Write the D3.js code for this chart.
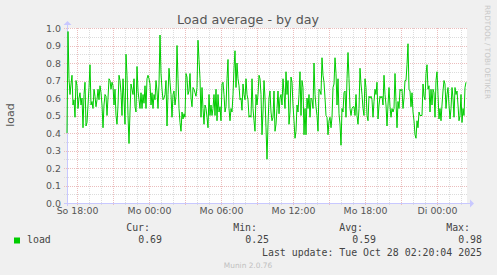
<!DOCTYPE html>
<html>
<head>
<meta charset="utf-8">
<script src="https://cdn.jsdelivr.net/npm/d3@7"></script>
<style>
  html, body { margin: 0; padding: 0; background: #F0F0F0; }
  svg { display: block; }
</style>
</head>
<body>
<svg id="chart" width="497" height="275"></svg>
<script>
// ---------------- data ----------------
const chartTitle = "Load average - by day";
const yAxisLabel = "load";
const seriesName = "load";
// 5-minute samples, first sample Sun 26 Oct 2025 17:10
const startTime = Date.UTC(2025, 9, 26, 17, 10);
const stepMinutes = 5;
const loadValues = [
  0.40,0.98,0.71,0.62,0.68,0.73,0.56,0.59,0.49,0.70,0.67,0.54,0.60,0.63,0.56,0.60,0.43,0.62,0.69,0.44,
  0.46,0.56,0.66,0.79,0.56,0.58,0.54,0.65,0.61,0.55,0.59,0.65,0.59,0.67,0.63,0.56,0.43,0.56,0.62,0.61,
  0.50,0.60,0.71,0.70,0.65,0.69,0.67,0.56,0.65,0.50,0.45,0.56,0.73,0.70,0.63,0.50,0.71,0.60,0.45,0.85,
  0.73,0.50,0.34,0.52,0.68,0.65,0.62,0.71,0.55,0.52,0.78,0.64,0.59,0.54,0.63,0.54,0.62,0.57,0.67,
  0.54,0.71,0.73,0.71,0.68,0.56,0.63,0.54,0.62,0.59,0.70,0.64,0.54,0.68,0.96,0.74,0.65,0.59,0.60,0.62,
  0.70,0.44,0.62,0.77,0.69,0.62,0.49,0.62,0.64,0.56,0.61,0.90,0.71,0.54,0.46,0.41,0.52,0.48,0.51,0.49,
  0.74,0.72,0.62,0.64,0.74,0.60,0.55,0.66,0.65,0.63,0.61,0.66,0.93,0.82,0.71,0.49,0.66,0.54,0.45,0.56,
  0.54,0.49,0.43,0.62,0.50,0.56,0.50,0.54,0.62,0.50,0.65,0.47,0.62,0.52,0.55,0.47,0.68,0.69,0.62,0.52,
  0.55,0.71,0.82,0.54,0.47,0.54,0.52,0.62,0.77,0.87,0.66,0.80,0.71,0.67,0.59,0.60,0.53,0.68,0.62,0.59,
  0.71,0.62,0.59,0.49,0.50,0.49,0.71,0.54,0.47,0.41,0.62,0.56,0.62,0.73,0.71,0.62,0.39,0.52,0.70,0.60,
  0.43,0.25,0.45,0.60,0.64,0.52,0.47,0.49,0.64,0.41,0.45,0.54,0.64,0.51,0.60,0.62,0.56,0.71,0.63,0.54,
  0.75,0.62,0.70,0.45,0.52,0.72,0.69,0.56,0.47,0.37,0.41,0.56,0.52,0.62,0.75,0.50,0.70,0.66,0.39,0.54,
  0.39,0.60,0.54,0.62,0.49,0.60,0.59,0.54,0.80,0.62,0.55,0.50,0.41,0.65,0.64,0.62,0.83,0.73,0.69,0.60,
  0.50,0.49,0.39,0.47,0.49,0.43,0.49,0.66,0.68,0.83,0.74,0.56,0.71,0.51,0.45,0.33,0.54,0.52,0.63,0.64,
  0.49,0.71,0.86,0.71,0.54,0.50,0.54,0.55,0.55,0.50,0.62,0.50,0.45,0.54,0.77,0.68,0.62,0.54,0.50,0.71,
  0.66,0.50,0.47,0.61,0.60,0.61,0.59,0.49,0.58,0.65,0.62,0.69,0.48,0.56,0.61,0.60,0.61,0.56,0.73,0.62,
  0.56,0.44,0.56,0.66,0.55,0.49,0.54,0.52,0.54,0.74,0.58,0.43,0.58,0.54,0.65,0.64,0.65,0.54,0.60,0.70,
  0.70,0.79,0.91,0.65,0.64,0.55,0.63,0.52,0.47,0.39,0.37,0.47,0.43,0.52,0.50,0.50,0.50,0.68,0.61,0.59,
  0.74,0.79,0.65,0.67,0.52,0.65,0.56,0.65,0.63,0.49,0.70,0.75,0.62,0.48,0.54,0.47,0.56,0.64,0.70,0.68,
  0.54,0.62,0.66,0.56,0.48,0.54,0.66,0.60,0.49,0.66,0.62,0.64,0.56,0.47,0.50,0.62,0.46,0.54,0.50,0.66,0.69
];
const yTickValues = [0.0,0.1,0.2,0.3,0.4,0.5,0.6,0.7,0.8,0.9,1.0];
const xTickLabels = ["So 18:00","Mo 00:00","Mo 06:00","Mo 12:00","Mo 18:00","Di 00:00"];
const legendHeaders = ["Cur:","Min:","Avg:","Max:"];
const legendValues = ["0.69","0.25","0.59","0.98"];
const lastUpdate = "Last update: Tue Oct 28 02:20:04 2025";
const footer = "Munin 2.0.76";
const sideText = "RRDTOOL / TOBI OETIKER";

// ---------------- layout ----------------
const svg = d3.select("#chart");
const plot = {left: 67, right: 467, top: 28, bottom: 203};
const endTime = startTime + loadValues.length * stepMinutes * 60000;
const data = loadValues.map((v, i) => ({t: new Date(startTime + i * stepMinutes * 60000), v}));

const x = d3.scaleUtc().domain([new Date(startTime), new Date(endTime)]).range([plot.left, plot.right]);
const y = d3.scaleLinear().domain([0, 1]).range([plot.bottom, plot.top]);

const sansFont = "'DejaVu Sans', sans-serif";
const monoFont = "'DejaVu Sans Mono', monospace";

// plot background
svg.append("rect")
  .attr("x", plot.left).attr("y", plot.top)
  .attr("width", plot.right - plot.left).attr("height", plot.bottom - plot.top)
  .attr("fill", "#FFFFFF");

// grid
const minorColor = "#DCDCDC";
const majorColor = "#EBBDBD";
const gridG = svg.append("g").attr("shape-rendering", "crispEdges");
const minorH = d3.range(0, 1.0001, 0.05).filter(v => Math.round(v * 100) % 10 !== 0);
gridG.selectAll(".hmin").data(minorH).join("line")
  .attr("x1", plot.left - 3).attr("x2", plot.right)
  .attr("y1", d => Math.round(y(d)) + 0.5).attr("y2", d => Math.round(y(d)) + 0.5)
  .attr("stroke", minorColor).attr("stroke-dasharray", "1,1");
const hourTicks = d3.utcHour.every(1).range(new Date(startTime), new Date(endTime));
const minorV = hourTicks.filter(d => d.getUTCHours() % 3 !== 0);
const majorV = hourTicks.filter(d => d.getUTCHours() % 3 === 0);
gridG.selectAll(".vmin").data(minorV).join("line")
  .attr("x1", d => Math.round(x(d)) + 0.5).attr("x2", d => Math.round(x(d)) + 0.5)
  .attr("y1", plot.top).attr("y2", plot.bottom + 2)
  .attr("stroke", minorColor).attr("stroke-dasharray", "1,1");
gridG.selectAll(".hmaj").data(yTickValues).join("line")
  .attr("x1", plot.left - 3).attr("x2", plot.right)
  .attr("y1", d => Math.round(y(d)) + 0.5).attr("y2", d => Math.round(y(d)) + 0.5)
  .attr("stroke", majorColor).attr("stroke-dasharray", "1,1");
gridG.selectAll(".vmaj").data(majorV).join("line")
  .attr("x1", d => Math.round(x(d)) + 0.5).attr("x2", d => Math.round(x(d)) + 0.5)
  .attr("y1", plot.top).attr("y2", plot.bottom + 3)
  .attr("stroke", majorColor).attr("stroke-dasharray", "1,1");

// axes lines with arrows
const axisColor = "#C8C8FF";
svg.append("line").attr("x1", plot.left - 3).attr("x2", plot.right + 3)
  .attr("y1", plot.bottom + 0.5).attr("y2", plot.bottom + 0.5)
  .attr("stroke", axisColor).attr("shape-rendering", "crispEdges");
svg.append("line").attr("x1", plot.left + 0.5).attr("x2", plot.left + 0.5)
  .attr("y1", plot.bottom + 3).attr("y2", plot.top - 3)
  .attr("stroke", axisColor).attr("shape-rendering", "crispEdges");
svg.append("path")
  .attr("d", `M${plot.right + 3},${plot.bottom - 3.5} L${plot.right + 7},${plot.bottom + 0.5} L${plot.right + 3},${plot.bottom + 4.5} Z`)
  .attr("fill", axisColor);
svg.append("path")
  .attr("d", `M${plot.left - 3.5},${plot.top - 3} L${plot.left + 0.5},${plot.top - 7} L${plot.left + 4.5},${plot.top - 3} Z`)
  .attr("fill", axisColor);

// y axis labels
const yAxis = d3.axisLeft(y).tickValues(yTickValues).tickSize(0).tickPadding(6).tickFormat(d3.format(".1f"));
const yg = svg.append("g").attr("transform", `translate(${plot.left},0)`).call(yAxis);
yg.select(".domain").remove();
yg.selectAll("text").attr("font-family", sansFont).attr("font-size", 9.4).attr("fill", "#555");

// x axis labels
const labelTimes = d3.utcHour.every(6).range(new Date(startTime), new Date(endTime));
const xAxis = d3.axisBottom(x).tickValues(labelTimes).tickSize(0).tickPadding(4.5)
  .tickFormat((d, i) => xTickLabels[i]);
const xg = svg.append("g").attr("transform", `translate(0,${plot.bottom})`).call(xAxis);
xg.select(".domain").remove();
xg.selectAll("text").attr("font-family", sansFont).attr("font-size", 9.4).attr("fill", "#555");

// line
const line = d3.line().x(d => x(d.t)).y(d => y(d.v));
svg.append("path").datum(data)
  .attr("d", line)
  .attr("fill", "none").attr("stroke", "#00CC00").attr("stroke-width", 1)
  .attr("stroke-linejoin", "miter");

// title
svg.append("text").attr("x", 248).attr("y", 24).attr("text-anchor", "middle")
  .attr("font-family", sansFont).attr("font-size", 12.7).attr("fill", "#555")
  .text(chartTitle);

// y axis title
svg.append("text").attr("transform", "translate(14,115) rotate(-90)")
  .attr("text-anchor", "middle")
  .attr("font-family", sansFont).attr("font-size", 11).attr("fill", "#555")
  .text(yAxisLabel);

// side text
svg.append("text").attr("transform", "translate(485,5) rotate(90)")
  .attr("font-family", sansFont).attr("font-size", 7.3).attr("fill", "#C8C8C8")
  .text(sideText);

// legend
const legG = svg.append("g").attr("font-family", monoFont).attr("font-size", 9.9).attr("fill", "#444");
const headerRight = [150, 257, 363, 470];
const valueRight = [162, 269, 376, 482];
legG.selectAll(".hdr").data(legendHeaders).join("text")
  .attr("x", (d, i) => headerRight[i]).attr("y", 231).attr("text-anchor", "end").text(d => d);
legG.selectAll(".val").data(legendValues).join("text")
  .attr("x", (d, i) => valueRight[i]).attr("y", 243).attr("text-anchor", "end").text(d => d);
legG.append("rect").attr("x", 14).attr("y", 237.5).attr("width", 6).attr("height", 6).attr("fill", "#00CC00");
legG.append("text").attr("x", 27).attr("y", 243).text(seriesName);
legG.append("text").attr("x", 482).attr("y", 256).attr("text-anchor", "end").text(lastUpdate);

svg.append("text").attr("x", 248).attr("y", 268).attr("text-anchor", "middle")
  .attr("font-family", sansFont).attr("font-size", 7.4).attr("fill", "#C0C0C0")
  .text(footer);
</script>
</body>
</html>
